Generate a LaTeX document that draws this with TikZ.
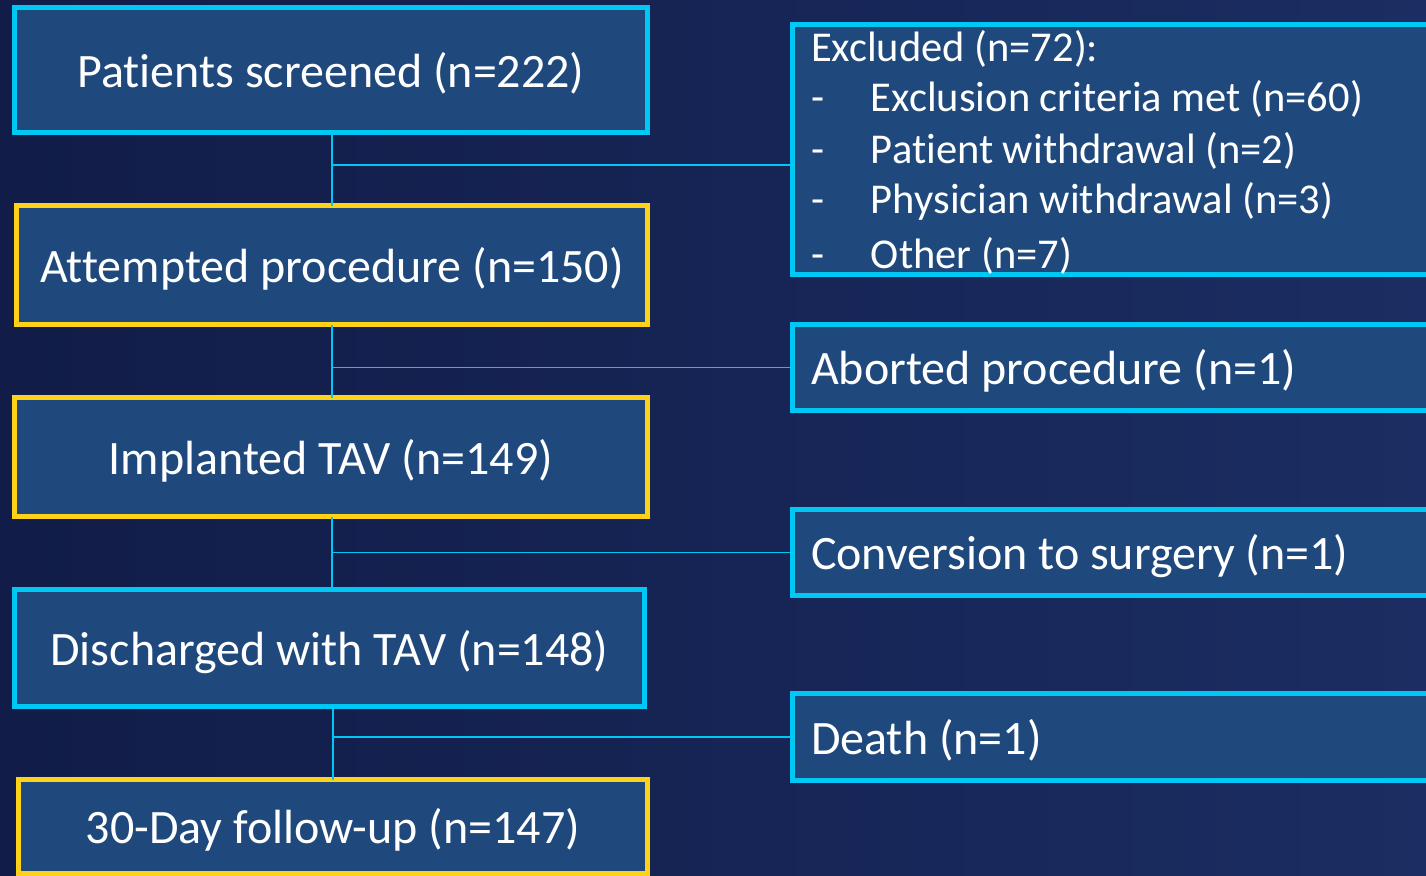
\documentclass[tikz,border=0pt]{standalone}
\usepackage{tikz}
\usepackage{xcolor}
\usepackage{fontspec}
\setmainfont{Carlito}[Ligatures={NoCommon,NoContextual}]
\definecolor{bgdark}{HTML}{111C48}
\definecolor{bglight}{HTML}{1B2D62}
\definecolor{boxfill}{HTML}{1F497D}
\definecolor{cyanline}{HTML}{00C8F5}
\definecolor{goldline}{HTML}{FFD21A}
\newcommand{\sidebox}[5][]{\node[side, minimum height=#4, #1] (#2) at (792.5,#3) {\spaceskip=0pt\xspaceskip=0pt\relax #5}}

\begin{document}
\begin{tikzpicture}[x=1pt, y=-1pt,
	stage/.style={draw, line width=5pt, fill=boxfill, text=white, outer sep=0pt,
		text height=40pt, text depth=6pt, font=\fontsize{48}{57}\selectfont},
	side/.style={draw=cyanline, line width=5pt, fill=boxfill, text=white, anchor=west, outer sep=0pt,
		minimum width=760pt, text width=723pt, inner xsep=18.5pt, align=left,
		text height=40pt, text depth=6pt, font=\fontsize{48}{57}\selectfont},
	link/.style={draw=cyanline, line width=1.6pt}]
	\useasboundingbox (0,0) rectangle (1426,875);
	\shade[left color=bgdark, right color=bglight] (0,0) rectangle (1426,875);
	% main column
	\node[stage, draw=cyanline, minimum width=633pt, minimum height=125pt] (screen) at (331,70) {Patients screened (n=222)};
	\node[stage, draw=goldline, minimum width=631pt, minimum height=119pt] (attempt) at (332,265) {Attempted procedure (n=150)};
	\node[stage, draw=goldline, minimum width=633pt, minimum height=119pt] (implant) at (331,457) {Implanted TAV (n=149)};
	\node[stage, draw=cyanline, minimum width=630pt, minimum height=117pt] (discharge) at (329.5,648) {Discharged with TAV (n=148)};
	\node[stage, draw=goldline, minimum width=629pt, minimum height=94pt] (followup) at (333,826.5) {30-Day follow-up (n=147)};
	% side column
	\sidebox[text height=36pt, text depth=213pt, inner ysep=0pt]{excluded}{149.5}{250pt}{\fontsize{42.5}{51}\selectfont Excluded (n=72):\\
		-\hspace{47pt}Exclusion criteria met (n=60)\\
		-\hspace{47pt}Patient withdrawal (n=2)\\
		-\hspace{47pt}Physician withdrawal (n=3)\\[-3pt]
		-\hspace{47pt}Other (n=7)};
	\sidebox{aborted}{367.5}{86pt}{Aborted procedure (n=1)};
	\sidebox{conversion}{552.5}{86pt}{Conversion to surgery (n=1)};
	\sidebox{death}{737}{87pt}{Death (n=1)};
	% links
	\coordinate (j1) at (332,165);
	\draw[link] (attempt.north |- screen.south) -- (attempt.north);
	\draw[link] (j1) -- (j1 -| excluded.west);
	\draw[link] (attempt.south) -- (attempt.south |- implant.north);
	\draw[link] (attempt.south |- aborted.west) -- (aborted.west);
	\draw[link] (attempt.south |- implant.south) -- (attempt.south |- discharge.north);
	\draw[link] (attempt.south |- conversion.west) -- (conversion.west);
	\draw[link] (followup.north |- discharge.south) -- (followup.north);
	\draw[link] (followup.north |- death.west) -- (death.west);
\end{tikzpicture}
\end{document}
